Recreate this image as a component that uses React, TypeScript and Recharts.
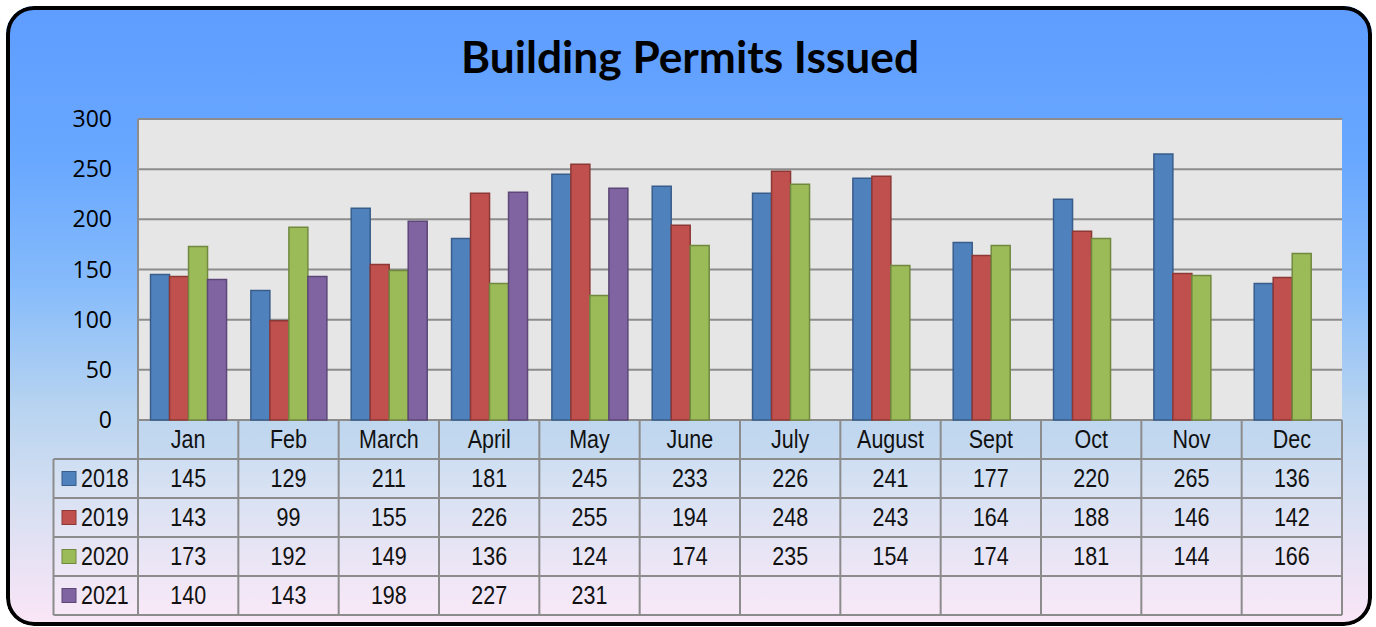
import React from "react";
import { BarChart, Bar, XAxis, YAxis, CartesianGrid } from "recharts";

const months = ["Jan", "Feb", "March", "April", "May", "June", "July", "August", "Sept", "Oct", "Nov", "Dec"];
const s2018 = [145, 129, 211, 181, 245, 233, 226, 241, 177, 220, 265, 136];
const s2019 = [143, 99, 155, 226, 255, 194, 248, 243, 164, 188, 146, 142];
const s2020 = [173, 192, 149, 136, 124, 174, 235, 154, 174, 181, 144, 166];
const s2021 = [140, 143, 198, 227, 231, null, null, null, null, null, null, null];
const yTicks = [0, 50, 100, 150, 200, 250, 300];

const series = [
  { key: "2018", values: s2018, fill: "#4f81bd", stroke: "#385d8a" },
  { key: "2019", values: s2019, fill: "#c0504d", stroke: "#8c3836" },
  { key: "2020", values: s2020, fill: "#9bbb59", stroke: "#71893f" },
  { key: "2021", values: s2021, fill: "#8064a2", stroke: "#5c4776" },
];

const data = months.map((m, i) => {
  const row: Record<string, string | number | null> = { month: m };
  series.forEach((s) => (row[s.key] = s.values[i]));
  return row;
});

const W = 1366;
const H = 620;
const plotLeft = 132;
const plotRight = 1336;
const plotTop = 113;
const plotBottom = 414;
const rowH = 39;
const legendLeft = 47.5;
const colW = (plotRight - plotLeft) / months.length;
const tableFont = "'Liberation Sans', Arial, sans-serif";
const gridColor = "#8c8c8c";

// squeezed text to mimic the narrow font of the original
const NarrowText = ({ x, y, anchor = "middle", dy, children }: any) => (
  <g transform={`translate(${x},${y}) scale(0.86,1)`}>
    <text
      x={0}
      y={0}
      dy={dy}
      textAnchor={anchor}
      dominantBaseline={dy ? undefined : "central"}
      fontFamily={tableFont}
      fontSize={25}
      fill="#111"
    >
      {children}
    </text>
  </g>
);

const MonthTick = (props: any) => (
  <NarrowText x={props.x} y={props.y} dy="0.71em">
    {props.payload.value}
  </NarrowText>
);

// data table drawn under the chart (month names come from the XAxis)
const DataTable = () => {
  const lines: React.ReactNode[] = [];
  const tableBottom = plotBottom + rowH * 5;
  for (let r = 1; r <= 5; r++) {
    const y = plotBottom + r * rowH;
    lines.push(<line key={"h" + r} x1={legendLeft} x2={plotRight} y1={y} y2={y} />);
  }
  lines.push(<line key="h0" x1={plotLeft} x2={plotRight} y1={plotBottom} y2={plotBottom} />);
  lines.push(<line key="vl" x1={legendLeft} x2={legendLeft} y1={plotBottom + rowH} y2={tableBottom} />);
  for (let c = 0; c <= months.length; c++) {
    const x = plotLeft + c * colW;
    lines.push(<line key={"v" + c} x1={x} x2={x} y1={plotBottom} y2={tableBottom} />);
  }
  return (
    <svg width={W} height={H} style={{ position: "absolute", left: 0, top: 0 }}>
      <rect x={plotLeft} y={plotBottom} width={plotRight - plotLeft} height={rowH} fill="#c2d7ee" opacity={0.5} />
      <rect x={legendLeft} y={plotBottom + rowH} width={plotRight - legendLeft} height={rowH * 4} fill="#ffffff" opacity={0.12} />
      {series.map((s, r) => {
        const cy = plotBottom + (r + 1.5) * rowH;
        return (
          <g key={s.key}>
            <rect x={56} y={cy - 7} width={14} height={14} fill={s.fill} stroke={s.stroke} strokeWidth={1} />
            <NarrowText x={75} y={cy} anchor="start">
              {s.key}
            </NarrowText>
            {s.values.map((v, c) => (
              <NarrowText key={c} x={plotLeft + (c + 0.5) * colW} y={cy}>
                {v == null ? "" : v}
              </NarrowText>
            ))}
          </g>
        );
      })}
      <g stroke={gridColor} strokeWidth={2}>{lines}</g>
    </svg>
  );
};

export default function App() {
  return (
    <div
      style={{
        position: "absolute",
        left: 6,
        top: 6,
        width: W,
        height: H,
        borderRadius: 28,
        overflow: "hidden",
        background:
          "linear-gradient(#5e9cff 0%, #69a8ff 25%, #86bbfb 45%, #b8d4f0 65%, #d6dff2 80%, #fbe6f7 100%)",
      }}
    >
      <DataTable />
      <svg width={W} height={90} style={{ position: "absolute", left: 0, top: 0 }}>
        <text
          x={684}
          y={67}
          textAnchor="middle"
          fontFamily="Lato, 'Open Sans', sans-serif"
          fontWeight={700}
          fontSize={43}
          textLength={458}
          lengthAdjust="spacingAndGlyphs"
          fill="#000"
        >
          Building Permits Issued
        </text>
      </svg>
      <div style={{ position: "absolute", left: 0, top: 0 }}>
        <BarChart
          width={W}
          height={H}
          data={data}
          margin={{ top: plotTop, right: W - plotRight, bottom: H - plotBottom - rowH, left: 0 }}
          barCategoryGap="12.5%"
          barGap={0}
        >
          <CartesianGrid vertical={false} stroke={gridColor} strokeWidth={2} fill="#e6e6e6" fillOpacity={1} />
          <XAxis
            dataKey="month"
            height={rowH}
            axisLine={false}
            tickLine={false}
            tickSize={0}
            tickMargin={10}
            interval={0}
            tick={<MonthTick />}
          />
          <YAxis
            width={plotLeft}
            domain={[0, 300]}
            ticks={yTicks}
            interval={0}
            axisLine={{ stroke: gridColor, strokeWidth: 2 }}
            tickLine={false}
            tickSize={0}
            tickMargin={26}
            tick={{ fontFamily: "'Open Sans', sans-serif", fontSize: 23, fill: "#000" }}
          />
          {series.map((s) => (
            <Bar
              key={s.key}
              dataKey={s.key}
              fill={s.fill}
              stroke={s.stroke}
              strokeWidth={1.5}
              isAnimationActive={false}
            />
          ))}
        </BarChart>
      </div>
      <div
        style={{
          position: "absolute",
          inset: 0,
          border: "4px solid #000",
          borderRadius: 28,
          boxSizing: "border-box",
          pointerEvents: "none",
        }}
      />
    </div>
  );
}
